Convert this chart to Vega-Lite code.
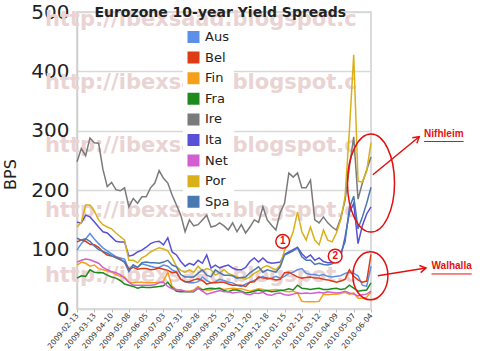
{
  "$schema": "https://vega.github.io/schema/vega-lite/v6.json",
  "width": 294,
  "height": 297,
  "autosize": {"type": "none"},
  "padding": {"left": 77, "top": 12, "right": 129, "bottom": 42},
  "background": "white",
  "resolve": {"axis": {"x": "independent", "y": "independent"}},
  "datasets": {
    "yields": [
      {"d":"2009-02-13","Aus":99,"Bel":113,"Fin":74,"Fra":52,"Ire":248,"Ita":146,"Net":79,"Por":138,"Spa":119},
      {"d":"2009-02-20","Aus":110,"Bel":116,"Fin":79,"Fra":56,"Ire":270,"Ita":145,"Net":82,"Por":146,"Spa":116},
      {"d":"2009-02-27","Aus":118,"Bel":114,"Fin":77,"Fra":55,"Ire":258,"Ita":158,"Net":84,"Por":175,"Spa":118},
      {"d":"2009-03-06","Aus":127,"Bel":109,"Fin":72,"Fra":66,"Ire":288,"Ita":155,"Net":83,"Por":175,"Spa":114},
      {"d":"2009-03-13","Aus":118,"Bel":108,"Fin":74,"Fra":62,"Ire":280,"Ita":147,"Net":80,"Por":165,"Spa":106},
      {"d":"2009-03-20","Aus":110,"Bel":104,"Fin":68,"Fra":61,"Ire":279,"Ita":138,"Net":77,"Por":150,"Spa":100},
      {"d":"2009-03-27","Aus":103,"Bel":96,"Fin":66,"Fra":61,"Ire":235,"Ita":130,"Net":70,"Por":142,"Spa":97},
      {"d":"2009-04-03","Aus":98,"Bel":91,"Fin":64,"Fra":57,"Ire":206,"Ita":128,"Net":66,"Por":138,"Spa":94},
      {"d":"2009-04-10","Aus":93,"Bel":89,"Fin":62,"Fra":54,"Ire":213,"Ita":121,"Net":63,"Por":135,"Spa":90},
      {"d":"2009-04-17","Aus":88,"Bel":87,"Fin":58,"Fra":52,"Ire":201,"Ita":114,"Net":61,"Por":128,"Spa":86},
      {"d":"2009-04-24","Aus":86,"Bel":84,"Fin":55,"Fra":48,"Ire":199,"Ita":113,"Net":58,"Por":122,"Spa":83},
      {"d":"2009-05-01","Aus":84,"Bel":79,"Fin":54,"Fra":42,"Ire":204,"Ita":113,"Net":52,"Por":116,"Spa":79},
      {"d":"2009-05-08","Aus":66,"Bel":67,"Fin":45,"Fra":40,"Ire":172,"Ita":89,"Net":45,"Por":82,"Spa":63},
      {"d":"2009-05-15","Aus":74,"Bel":70,"Fin":44,"Fra":38,"Ire":186,"Ita":91,"Net":40,"Por":82,"Spa":74},
      {"d":"2009-05-22","Aus":70,"Bel":67,"Fin":45,"Fra":35,"Ire":178,"Ita":96,"Net":40,"Por":78,"Spa":70},
      {"d":"2009-05-29","Aus":76,"Bel":68,"Fin":45,"Fra":37,"Ire":189,"Ita":99,"Net":40,"Por":86,"Spa":78},
      {"d":"2009-06-05","Aus":74,"Bel":68,"Fin":44,"Fra":36,"Ire":189,"Ita":104,"Net":40,"Por":90,"Spa":79},
      {"d":"2009-06-12","Aus":72,"Bel":66,"Fin":44,"Fra":36,"Ire":204,"Ita":110,"Net":40,"Por":96,"Spa":78},
      {"d":"2009-06-19","Aus":70,"Bel":67,"Fin":44,"Fra":37,"Ire":212,"Ita":113,"Net":41,"Por":100,"Spa":78},
      {"d":"2009-06-26","Aus":70,"Bel":69,"Fin":45,"Fra":38,"Ire":233,"Ita":114,"Net":44,"Por":103,"Spa":77},
      {"d":"2009-07-03","Aus":74,"Bel":67,"Fin":47,"Fra":39,"Ire":220,"Ita":108,"Net":45,"Por":101,"Spa":79},
      {"d":"2009-07-10","Aus":72,"Bel":65,"Fin":62,"Fra":45,"Ire":212,"Ita":120,"Net":38,"Por":98,"Spa":82},
      {"d":"2009-07-17","Aus":66,"Bel":61,"Fin":38,"Fra":36,"Ire":192,"Ita":96,"Net":34,"Por":86,"Spa":74},
      {"d":"2009-07-24","Aus":62,"Bel":62,"Fin":33,"Fra":30,"Ire":175,"Ita":91,"Net":32,"Por":72,"Spa":71},
      {"d":"2009-07-31","Aus":50,"Bel":50,"Fin":32,"Fra":29,"Ire":158,"Ita":80,"Net":32,"Por":65,"Spa":58},
      {"d":"2009-08-07","Aus":46,"Bel":46,"Fin":30,"Fra":29,"Ire":130,"Ita":72,"Net":30,"Por":62,"Spa":54},
      {"d":"2009-08-14","Aus":44,"Bel":46,"Fin":30,"Fra":29,"Ire":150,"Ita":77,"Net":29,"Por":66,"Spa":54},
      {"d":"2009-08-21","Aus":44,"Bel":49,"Fin":32,"Fra":29,"Ire":140,"Ita":74,"Net":30,"Por":62,"Spa":54},
      {"d":"2009-08-28","Aus":46,"Bel":51,"Fin":38,"Fra":35,"Ire":142,"Ita":82,"Net":35,"Por":72,"Spa":60},
      {"d":"2009-09-04","Aus":54,"Bel":48,"Fin":33,"Fra":32,"Ire":150,"Ita":77,"Net":30,"Por":64,"Spa":66},
      {"d":"2009-09-11","Aus":48,"Bel":42,"Fin":32,"Fra":34,"Ire":158,"Ita":91,"Net":25,"Por":68,"Spa":57},
      {"d":"2009-09-18","Aus":44,"Bel":44,"Fin":32,"Fra":35,"Ire":138,"Ita":69,"Net":27,"Por":66,"Spa":54},
      {"d":"2009-09-25","Aus":46,"Bel":44,"Fin":34,"Fra":34,"Ire":140,"Ita":74,"Net":29,"Por":57,"Spa":66},
      {"d":"2009-10-02","Aus":50,"Bel":45,"Fin":35,"Fra":35,"Ire":145,"Ita":69,"Net":31,"Por":61,"Spa":61},
      {"d":"2009-10-09","Aus":48,"Bel":45,"Fin":33,"Fra":31,"Ire":140,"Ita":72,"Net":29,"Por":66,"Spa":57},
      {"d":"2009-10-16","Aus":45,"Bel":42,"Fin":34,"Fra":29,"Ire":133,"Ita":74,"Net":29,"Por":60,"Spa":57},
      {"d":"2009-10-23","Aus":44,"Bel":40,"Fin":35,"Fra":32,"Ire":145,"Ita":69,"Net":27,"Por":57,"Spa":56},
      {"d":"2009-10-30","Aus":40,"Bel":40,"Fin":34,"Fra":32,"Ire":130,"Ita":66,"Net":28,"Por":54,"Spa":52},
      {"d":"2009-11-06","Aus":38,"Bel":40,"Fin":34,"Fra":30,"Ire":142,"Ita":66,"Net":29,"Por":52,"Spa":53},
      {"d":"2009-11-13","Aus":42,"Bel":38,"Fin":32,"Fra":27,"Ire":128,"Ita":70,"Net":25,"Por":50,"Spa":54},
      {"d":"2009-11-20","Aus":45,"Bel":45,"Fin":30,"Fra":28,"Ire":138,"Ita":80,"Net":24,"Por":54,"Spa":61},
      {"d":"2009-11-27","Aus":48,"Bel":46,"Fin":32,"Fra":30,"Ire":150,"Ita":86,"Net":27,"Por":60,"Spa":66},
      {"d":"2009-12-04","Aus":52,"Bel":54,"Fin":34,"Fra":32,"Ire":146,"Ita":79,"Net":26,"Por":64,"Spa":71},
      {"d":"2009-12-11","Aus":55,"Bel":52,"Fin":33,"Fra":30,"Ire":172,"Ita":86,"Net":28,"Por":70,"Spa":62},
      {"d":"2009-12-18","Aus":50,"Bel":52,"Fin":31,"Fra":31,"Ire":150,"Ita":79,"Net":24,"Por":73,"Spa":66},
      {"d":"2009-12-25","Aus":52,"Bel":51,"Fin":32,"Fra":29,"Ire":141,"Ita":77,"Net":23,"Por":69,"Spa":64},
      {"d":"2010-01-01","Aus":55,"Bel":49,"Fin":33,"Fra":30,"Ire":133,"Ita":78,"Net":26,"Por":66,"Spa":62},
      {"d":"2010-01-08","Aus":52,"Bel":50,"Fin":32,"Fra":31,"Ire":162,"Ita":79,"Net":27,"Por":74,"Spa":71},
      {"d":"2010-01-15","Aus":55,"Bel":61,"Fin":30,"Fra":32,"Ire":178,"Ita":92,"Net":24,"Por":99,"Spa":91},
      {"d":"2010-01-22","Aus":60,"Bel":62,"Fin":29,"Fra":34,"Ire":229,"Ita":96,"Net":23,"Por":111,"Spa":94},
      {"d":"2010-01-29","Aus":62,"Bel":58,"Fin":30,"Fra":32,"Ire":222,"Ita":100,"Net":25,"Por":130,"Spa":98},
      {"d":"2010-02-05","Aus":66,"Bel":54,"Fin":27,"Fra":40,"Ire":229,"Ita":104,"Net":27,"Por":163,"Spa":103},
      {"d":"2010-02-12","Aus":68,"Bel":52,"Fin":13,"Fra":35,"Ire":204,"Ita":93,"Net":26,"Por":130,"Spa":88},
      {"d":"2010-02-19","Aus":60,"Bel":53,"Fin":12,"Fra":34,"Ire":204,"Ita":86,"Net":27,"Por":116,"Spa":82},
      {"d":"2010-02-26","Aus":58,"Bel":54,"Fin":12,"Fra":33,"Ire":217,"Ita":91,"Net":26,"Por":138,"Spa":82},
      {"d":"2010-03-05","Aus":58,"Bel":52,"Fin":12,"Fra":34,"Ire":150,"Ita":82,"Net":27,"Por":116,"Spa":75},
      {"d":"2010-03-12","Aus":56,"Bel":52,"Fin":13,"Fra":35,"Ire":145,"Ita":86,"Net":28,"Por":108,"Spa":77},
      {"d":"2010-03-19","Aus":58,"Bel":50,"Fin":25,"Fra":33,"Ire":155,"Ita":80,"Net":27,"Por":133,"Spa":75},
      {"d":"2010-03-26","Aus":55,"Bel":49,"Fin":24,"Fra":33,"Ire":145,"Ita":78,"Net":29,"Por":116,"Spa":74},
      {"d":"2010-04-02","Aus":54,"Bel":47,"Fin":25,"Fra":34,"Ire":138,"Ita":78,"Net":28,"Por":113,"Spa":76},
      {"d":"2010-04-09","Aus":55,"Bel":45,"Fin":25,"Fra":35,"Ire":133,"Ita":82,"Net":27,"Por":128,"Spa":82},
      {"d":"2010-04-16","Aus":56,"Bel":47,"Fin":26,"Fra":33,"Ire":153,"Ita":88,"Net":28,"Por":150,"Spa":94},
      {"d":"2010-04-23","Aus":60,"Bel":50,"Fin":28,"Fra":34,"Ire":183,"Ita":121,"Net":30,"Por":189,"Spa":113},
      {"d":"2010-04-30","Aus":62,"Bel":66,"Fin":25,"Fra":40,"Ire":239,"Ita":162,"Net":27,"Por":300,"Spa":170},
      {"d":"2010-05-07","Aus":60,"Bel":55,"Fin":27,"Fra":35,"Ire":290,"Ita":178,"Net":25,"Por":428,"Spa":190},
      {"d":"2010-05-14","Aus":56,"Bel":49,"Fin":18,"Fra":30,"Ire":185,"Ita":110,"Net":22,"Por":215,"Spa":135},
      {"d":"2010-05-21","Aus":40,"Bel":45,"Fin":18,"Fra":31,"Ire":212,"Ita":140,"Net":24,"Por":214,"Spa":155},
      {"d":"2010-05-28","Aus":38,"Bel":47,"Fin":20,"Fra":32,"Ire":234,"Ita":160,"Net":25,"Por":232,"Spa":178},
      {"d":"2010-06-04","Aus":72,"Bel":92,"Fin":28,"Fra":44,"Ire":256,"Ita":172,"Net":30,"Por":280,"Spa":205}
    ],
    "watermark": [
      {"d":"2008-12-23","v":487,"t":"http://ibexsaad.blogspot.c"},
      {"d":"2008-12-23","v":380,"t":"http://ibexsaad.blogspot.c"},
      {"d":"2008-12-23","v":274,"t":"http://ibexsaad.blogspot.c"},
      {"d":"2008-12-23","v":165,"t":"http://ibexsaad.blogspot.c"},
      {"d":"2008-12-23","v":56,"t":"http://ibexsaad.blogspot.c"}
    ],
    "heading": [
      {"d":"2009-10-03","v":491,"t":"Eurozone 10-year Yield Spreads"}
    ],
    "marks": [
      {"d":"2010-01-12","v":114,"t":"1"},
      {"d":"2010-04-07","v":89,"t":"2"}
    ],
    "arrows": [
      {"d":"2010-06-07","v":226,"d2":"2010-08-21","v2":290,"a":50},
      {"d":"2010-06-15","v":56,"d2":"2010-09-01","v2":69,"a":80}
    ],
    "labels": [
      {"d":"2010-08-29","v":290,"d2":"2010-11-01","u":282,"t":"Nifhleim"},
      {"d":"2010-09-10","v":67,"d2":"2010-11-14","u":59,"t":"Walhalla"}
    ]
  },
  "layer": [
    {
      "data": {"name": "watermark"},
      "mark": {"type": "text", "align": "left", "baseline": "middle", "font": "DejaVu Sans", "fontWeight": "bold", "fontSize": 21, "color": "#ead3d3"},
      "encoding": {
        "x": {"field": "d", "type": "temporal", "axis": null},
        "y": {"field": "v", "type": "quantitative", "axis": null},
        "text": {"field": "t"}
      }
    },
    {
      "data": {"name": "yields"},
      "transform": [{"fold": ["Aus","Bel","Fin","Fra","Ire","Ita","Net","Por","Spa"], "as": ["country","bps"]}],
      "mark": {"type": "line", "strokeWidth": 1.5},
      "encoding": {
        "x": {
          "field": "d", "type": "temporal",
          "scale": {"type": "utc", "domain": [{"year":2009,"month":2,"date":13,"utc":true},{"year":2010,"month":6,"date":4,"utc":true}]},
          "axis": {
            "title": null, "format": "%Y-%m-%d",
            "values": [
              {"year":2009,"month":2,"date":13,"utc":true},{"year":2009,"month":3,"date":13,"utc":true},{"year":2009,"month":4,"date":10,"utc":true},
              {"year":2009,"month":5,"date":8,"utc":true},{"year":2009,"month":6,"date":5,"utc":true},{"year":2009,"month":7,"date":3,"utc":true},
              {"year":2009,"month":7,"date":31,"utc":true},{"year":2009,"month":8,"date":28,"utc":true},{"year":2009,"month":9,"date":25,"utc":true},
              {"year":2009,"month":10,"date":23,"utc":true},{"year":2009,"month":11,"date":20,"utc":true},{"year":2009,"month":12,"date":18,"utc":true},
              {"year":2010,"month":1,"date":15,"utc":true},{"year":2010,"month":2,"date":12,"utc":true},{"year":2010,"month":3,"date":12,"utc":true},
              {"year":2010,"month":4,"date":9,"utc":true},{"year":2010,"month":5,"date":7,"utc":true},{"year":2010,"month":6,"date":4,"utc":true}
            ],
            "labelAngle": -50, "labelAlign": "right", "labelBaseline": "middle", "labelFontSize": 7.5, "labelColor": "#333",
            "labelPadding": 2, "labelFlush": false, "labelOverlap": false, "labelBound": false, "labelSeparation": 0,
            "ticks": true, "tickSize": 3, "tickColor": "#bbb", "domain": false, "grid": false
          }
        },
        "y": {
          "field": "bps", "type": "quantitative",
          "scale": {"domain": [0, 500], "nice": false, "zero": true},
          "axis": {
            "title": "BPS", "titleFontSize": 16, "titleFontWeight": "normal", "titleColor": "#222",
            "titleAngle": -90, "titleX": -67, "titleY": 162, "titleAlign": "center", "titleBaseline": "middle",
            "values": [0,100,200,300,400,500], "labelFontSize": 20, "labelColor": "#222", "labelPadding": 8,
            "ticks": false, "domain": true, "domainColor": "#cfcfcf", "domainWidth": 1.5,
            "grid": true, "gridColor": "#d9d9d9", "gridWidth": 1.5, "labelFlush": false
          }
        },
        "color": {
          "field": "country", "type": "nominal",
          "scale": {
            "domain": ["Aus","Bel","Fin","Fra","Ire","Ita","Net","Por","Spa"],
            "range": ["#5b8fe8","#dd3c14","#f5a01a","#1e8a1e","#7a7a7a","#5a50d8","#d25ed2","#d9b01a","#4a78b0"]
          },
          "legend": {
            "orient": "none", "legendX": 106, "legendY": 14, "title": null,
            "symbolType": "square", "symbolSize": 36, "symbolStrokeWidth": 6, "symbolOpacity": 1,
            "labelFont": "DejaVu Sans", "labelFontSize": 13, "labelColor": "#222", "labelOffset": 5,
            "clipHeight": 14, "rowPadding": 6.6, "fillColor": "white", "padding": 4
          }
        }
      }
    },
    {
      "data": {"name": "heading"},
      "mark": {"type": "text", "font": "DejaVu Sans", "fontWeight": "bold", "fontSize": 14, "color": "#222", "align": "center", "baseline": "alphabetic"},
      "encoding": {"x": {"field": "d", "type": "temporal", "axis": null}, "y": {"field": "v", "type": "quantitative", "axis": null}, "text": {"field": "t"}}
    },
    {
      "data": {"values": [{"d":"2010-06-04","v":212}]},
      "mark": {"type": "point", "shape": "M -0.48 0 A 0.48 1 0 1 0 0.48 0 A 0.48 1 0 1 0 -0.48 0 Z", "size": 9604, "filled": false, "stroke": "#e41010", "strokeWidth": 1.5, "opacity": 1},
      "encoding": {"x": {"field": "d", "type": "temporal", "axis": null}, "y": {"field": "v", "type": "quantitative", "axis": null}}
    },
    {
      "data": {"values": [{"d":"2010-06-03","v":56}]},
      "mark": {"type": "point", "shape": "M -0.73 0 A 0.73 1 0 1 0 0.73 0 A 0.73 1 0 1 0 -0.73 0 Z", "size": 2304, "filled": false, "stroke": "#e41010", "strokeWidth": 1.5, "opacity": 1},
      "encoding": {"x": {"field": "d", "type": "temporal", "axis": null}, "y": {"field": "v", "type": "quantitative", "axis": null}}
    },
    {
      "data": {"name": "arrows"},
      "mark": {"type": "rule", "color": "#e41010", "strokeWidth": 1.5},
      "encoding": {
        "x": {"field": "d", "type": "temporal", "axis": null}, "y": {"field": "v", "type": "quantitative", "axis": null},
        "x2": {"field": "d2"}, "y2": {"field": "v2"}
      }
    },
    {
      "data": {"name": "arrows"},
      "mark": {"type": "point", "shape": "M -0.6 1 L 0 0 L 0.6 1", "size": 144, "filled": false, "stroke": "#e41010", "strokeWidth": 1.5, "opacity": 1},
      "encoding": {
        "x": {"field": "d2", "type": "temporal", "axis": null}, "y": {"field": "v2", "type": "quantitative", "axis": null},
        "angle": {"field": "a", "type": "quantitative", "scale": null}
      }
    },
    {
      "data": {"name": "marks"},
      "mark": {"type": "point", "shape": "circle", "size": 190, "filled": true, "fill": "white", "stroke": "#e41010", "strokeWidth": 1.5, "opacity": 1},
      "encoding": {"x": {"field": "d", "type": "temporal", "axis": null}, "y": {"field": "v", "type": "quantitative", "axis": null}}
    },
    {
      "data": {"name": "marks"},
      "mark": {"type": "text", "font": "Liberation Sans", "fontWeight": "bold", "fontSize": 10, "color": "#e41010", "align": "center", "baseline": "middle"},
      "encoding": {"x": {"field": "d", "type": "temporal", "axis": null}, "y": {"field": "v", "type": "quantitative", "axis": null}, "text": {"field": "t"}}
    },
    {
      "data": {"name": "labels"},
      "mark": {"type": "text", "font": "Liberation Sans", "fontWeight": "bold", "fontSize": 10, "color": "#e41010", "align": "left", "baseline": "alphabetic"},
      "encoding": {"x": {"field": "d", "type": "temporal", "axis": null}, "y": {"field": "v", "type": "quantitative", "axis": null}, "text": {"field": "t"}}
    },
    {
      "data": {"name": "labels"},
      "mark": {"type": "rule", "color": "#e41010", "strokeWidth": 1},
      "encoding": {"x": {"field": "d", "type": "temporal", "axis": null}, "x2": {"field": "d2"}, "y": {"field": "u", "type": "quantitative", "axis": null}}
    }
  ],
  "config": {
    "font": "DejaVu Sans",
    "axis": {"labelFont": "DejaVu Sans", "titleFont": "DejaVu Sans"},
    "view": {"stroke": "#cfcfcf", "strokeWidth": 1.5}
  }
}
